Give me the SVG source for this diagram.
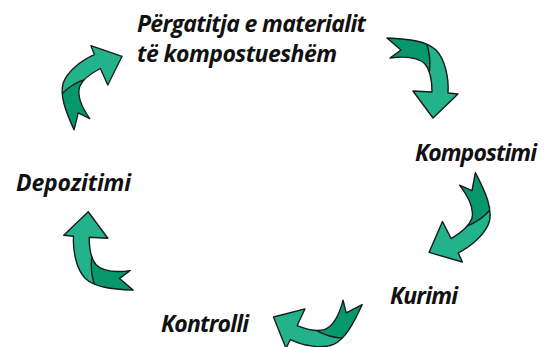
<svg xmlns="http://www.w3.org/2000/svg" width="546" height="347" viewBox="0 0 546 347">
<style>
.lbl{font-family:"Open Sans","Liberation Sans",sans-serif;font-weight:bold;font-style:italic;font-size:23px;fill:#111;}
.light{fill:#22b38c;}
.dark{fill:#06976b;}
.edge{fill:none;stroke:#1a1a1a;stroke-width:1.4;stroke-linejoin:round;}
</style>
<defs>
<path id="arrowOutline" d="M-34,-42 L-20,-30 L-31,-22 C-16,-24 -3,-23 4,-16 C10,-9 11,2 11,12 L-8,11 L12,38 L37,14 L27,13 C28,-2 24,-21 15,-30 C5,-39 -11,-41 -34,-42 Z"/>
<clipPath id="arrowClip"><use href="#arrowOutline"/></clipPath>
<g id="arrow">
<use href="#arrowOutline" class="light"/>
<g clip-path="url(#arrowClip)">
<path class="dark" d="M-60,-60 L3,-43 C9,-30 10,-18 8,-6 L-60,20 Z"/>
<path class="edge" d="M3,-43 C9,-30 10,-18 8,-6"/>
</g>
<use href="#arrowOutline" class="edge"/>
</g>
</defs>
<g id="connectors">
<use id="arrow1" href="#arrow" transform="translate(421,80)"/>
<use id="arrow2" href="#arrow" transform="translate(456,223) rotate(60)"/>
<use id="arrow3" href="#arrow" transform="translate(312,320) rotate(112) scale(0.97)"/>
<use id="arrow4" href="#arrow" transform="translate(100,249) rotate(180) scale(0.98)"/>
<use id="arrow5" href="#arrow" transform="translate(95,83) rotate(243) scale(0.95)"/>
</g>
<g id="node-pergatitja">
<text class="lbl" x="137" y="31.5" textLength="229">Përgatitja e materialit</text>
<text class="lbl" x="137" y="61.5" textLength="200">të kompostueshëm</text>
</g>
<g id="node-kompostimi"><text class="lbl" x="415" y="160.5" textLength="122">Kompostimi</text></g>
<g id="node-kurimi"><text class="lbl" x="390" y="304" textLength="68">Kurimi</text></g>
<g id="node-kontrolli"><text class="lbl" x="161" y="331.5" textLength="88">Kontrolli</text></g>
<g id="node-depozitimi"><text class="lbl" x="16" y="190.5" textLength="115">Depozitimi</text></g>
</svg>
